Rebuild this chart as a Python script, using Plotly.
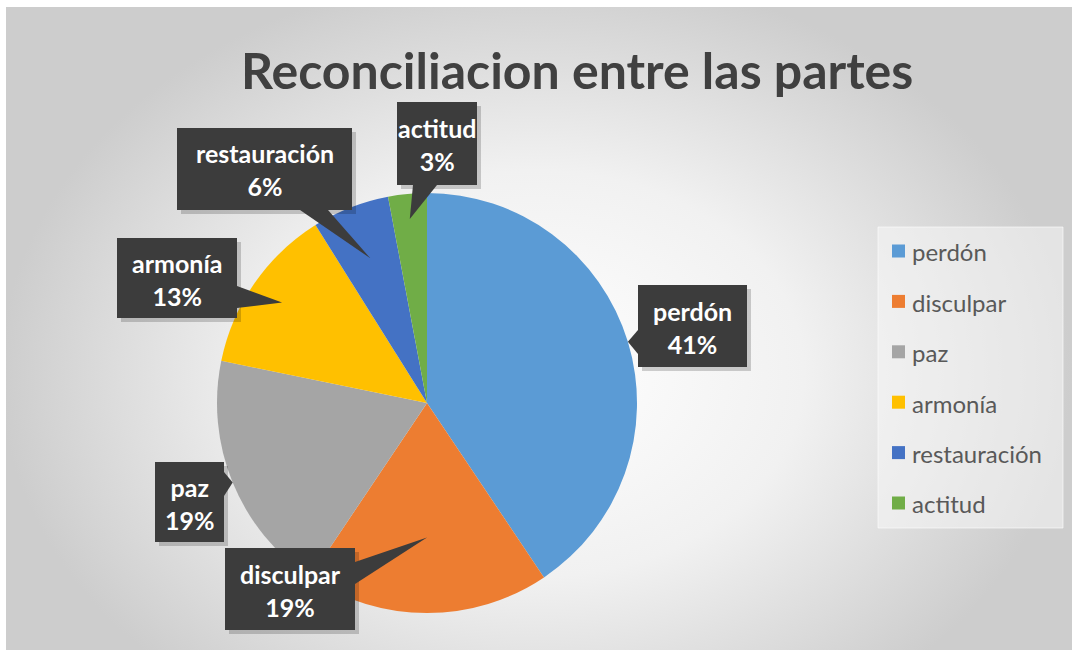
import math
import plotly.graph_objects as go

# ---- data ----
labels = ["perdón", "disculpar", "paz", "armonía", "restauración", "actitud"]
values = [41, 19, 19, 13, 6, 3]
colors = ["#5B9BD5", "#ED7D31", "#A5A5A5", "#FFC000", "#4472C4", "#70AD47"]
title_text = "Reconciliacion entre las partes"

# ---- layout constants (pixels) ----
W, H = 1072, 650
CX, CY, R = 427, 403, 210
FONT = "Lato, Open Sans, sans-serif"

def fx(px):
    return px / W

def fy(py):
    return 1 - py / H

# callout boxes: (x0, y0, x1, y1), wedge base points, tip radius fraction
callouts = {
    "perdón":       ((638, 285, 747, 367), ((638, 330), (638, 354)), 1.0),
    "disculpar":    ((225, 548, 355, 630), ((355, 562), (355, 584)), 0.64),
    "paz":          ((155, 462, 224, 542), ((224, 472), (224, 496)), 1.0),
    "armonía":      ((117, 238, 237, 318), ((237, 286), (237, 308)), 0.84),
    "restauración": ((177, 128, 352, 210), ((300, 210), (328, 210)), 0.74),
    "actitud":      ((397, 102, 477, 185), ((413, 185), (437, 185)), 0.88),
}

total = sum(values)
fig = go.Figure()

# background gradient panel
fig.add_trace(go.Scatter(
    x=[0, 1, 1, 0, 0], y=[-0.2, -0.2, 1.05, 1.05, -0.2],
    mode="lines", line=dict(width=0), fill="toself",
    fillgradient=dict(type="radial",
                      colorscale=[[0, "#FFFFFF"], [0.5, "#F1F1F1"], [1, "#CDCDCD"]]),
    hoverinfo="skip", showlegend=False,
))

fig.add_trace(go.Pie(
    labels=labels, values=values, sort=False, direction="clockwise", rotation=0,
    marker=dict(colors=colors, line=dict(width=0)),
    textinfo="none", showlegend=False, hoverinfo="label+percent",
    domain=dict(x=[fx(CX - R), fx(CX + R)], y=[fy(CY + R), fy(CY - R)]),
))

shapes = []
annotations = []

# white frame strips (top / left)
shapes.append(dict(type="rect", xref="paper", yref="paper", x0=0, x1=1, y0=fy(7), y1=1,
                   fillcolor="#FFFFFF", line=dict(width=0), layer="above"))
shapes.append(dict(type="rect", xref="paper", yref="paper", x0=0, x1=fx(6), y0=0, y1=1,
                   fillcolor="#FFFFFF", line=dict(width=0), layer="above"))

cum = 0
for lab, val in zip(labels, values):
    mid = (cum + val / 2) / total * 2 * math.pi
    cum += val
    (x0, y0, x1, y1), (b1, b2), rf = callouts[lab]
    tx = CX + R * rf * math.sin(mid)
    ty = CY - R * rf * math.cos(mid)
    # shadow
    shapes.append(dict(type="rect", xref="paper", yref="paper",
                       x0=fx(x0 + 4), x1=fx(x1 + 4), y0=fy(y0 + 4), y1=fy(y1 + 4),
                       fillcolor="rgba(0,0,0,0.18)", line=dict(width=0), layer="above"))
    # wedge
    path = "M {} {} L {} {} L {} {} Z".format(fx(b1[0]), fy(b1[1]), fx(tx), fy(ty), fx(b2[0]), fy(b2[1]))
    shapes.append(dict(type="path", xref="paper", yref="paper", path=path,
                       fillcolor="#3C3C3C", line=dict(width=0), layer="above"))
    # box
    shapes.append(dict(type="rect", xref="paper", yref="paper",
                       x0=fx(x0), x1=fx(x1), y0=fy(y0), y1=fy(y1),
                       fillcolor="#3C3C3C", line=dict(width=0), layer="above"))
    pct = round(val / total * 100)
    annotations.append(dict(
        xref="paper", yref="paper", x=fx((x0 + x1) / 2), y=fy((y0 + y1) / 2 + 1),
        text="<b>{}</b><br><b>{}%</b>".format(lab, pct), showarrow=False,
        font=dict(family=FONT, size=25, color="#FFFFFF"), align="center",
        xanchor="center", yanchor="middle"))

# manual legend
LX0, LY0, LX1, LY1 = 878, 227, 1063, 528
shapes.append(dict(type="rect", xref="paper", yref="paper",
                   x0=fx(LX0), x1=fx(LX1), y0=fy(LY1), y1=fy(LY0),
                   fillcolor="rgba(248,248,248,0.55)",
                   line=dict(width=1, color="rgba(255,255,255,0.6)"), layer="above"))
for i, (lab, col) in enumerate(zip(labels, colors)):
    yc = 251 + i * 50.4
    shapes.append(dict(type="rect", xref="paper", yref="paper",
                       x0=fx(892), x1=fx(905), y0=fy(yc + 6.5), y1=fy(yc - 6.5),
                       fillcolor=col, line=dict(width=0), layer="above"))
    annotations.append(dict(
        xref="paper", yref="paper", x=fx(910), y=fy(yc + 1), text=lab, showarrow=False,
        xanchor="left", yanchor="middle",
        font=dict(family=FONT, size=24, color="#595959")))

# title
annotations.append(dict(
    xref="paper", yref="paper", x=fx(577), y=fy(70), text="<b>" + title_text + "</b>",
    showarrow=False, xanchor="center", yanchor="middle",
    font=dict(family=FONT, size=50, color="#404040")))

fig.update_layout(
    width=W, height=H, margin=dict(l=0, r=0, t=0, b=0),
    paper_bgcolor="#C9C9C9", plot_bgcolor="rgba(0,0,0,0)",
    xaxis=dict(domain=[0, 1], range=[0, 1], visible=False, fixedrange=True),
    yaxis=dict(domain=[0, 1], range=[0, 1], visible=False, fixedrange=True),
    shapes=shapes, annotations=annotations, showlegend=False,
)

fig.write_html(
    "out.html", config={"displayModeBar": False},
    post_script=("document.body.style.margin='0';document.body.style.overflow='hidden';"
                 "document.documentElement.style.background='#C9C9C9';"
                 "document.body.style.background='#C9C9C9';"))
